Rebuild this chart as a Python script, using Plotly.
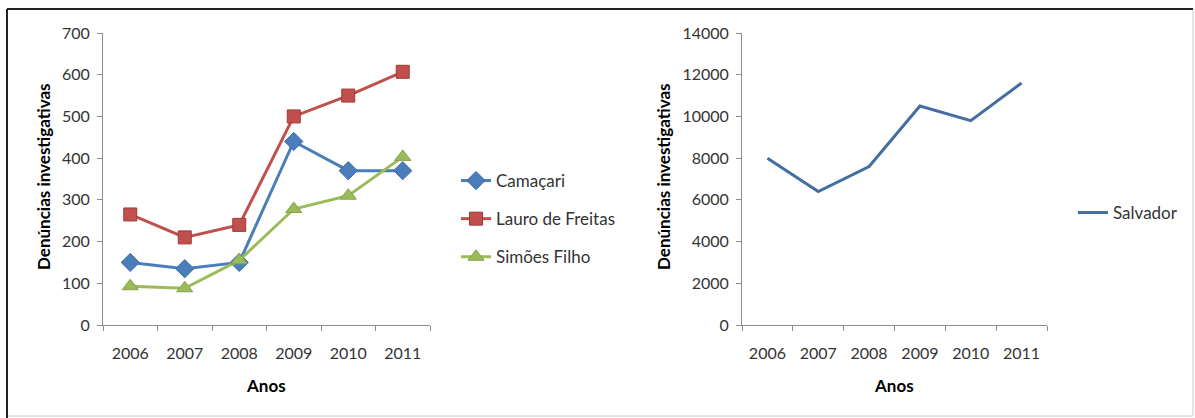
import plotly.graph_objects as go

years = ["2006", "2007", "2008", "2009", "2010", "2011"]
camacari = [150, 135, 150, 440, 370, 370]
lauro = [265, 210, 240, 500, 550, 607]
simoes = [93, 88, 155, 278, 310, 403]
salvador = [8000, 6400, 7600, 10500, 9800, 11600]

W, H = 1195, 418
FONT = "Lato"

def px(x):
    return x / W

def py(y):
    return 1 - y / H

fig = go.Figure()

fig.add_trace(go.Scatter(x=years, y=camacari, name="Camaçari", mode="lines+markers",
                         line=dict(color="#4A7EBB", width=3),
                         marker=dict(symbol="diamond", size=14, color="#4A7EBB",
                                     line=dict(color="#3C6BA5", width=1)),
                         legend="legend", legendgroup="a", xaxis="x", yaxis="y"))
fig.add_trace(go.Scatter(x=years, y=lauro, name="Lauro de Freitas", mode="lines+markers",
                         line=dict(color="#C0504D", width=3),
                         marker=dict(symbol="square", size=13, color="#C0504D",
                                     line=dict(color="#9E3A38", width=1)),
                         legend="legend", legendgroup="b", xaxis="x", yaxis="y"))
fig.add_trace(go.Scatter(x=years, y=simoes, name="Simões Filho", mode="lines+markers",
                         line=dict(color="#9BBB59", width=3),
                         marker=dict(symbol="triangle-up", size=14, color="#9BBB59",
                                     line=dict(color="#85A34A", width=1)),
                         legend="legend", legendgroup="c", xaxis="x", yaxis="y"))
fig.add_trace(go.Scatter(x=years, y=salvador, name="Salvador", mode="lines",
                         line=dict(color="#446EA2", width=3),
                         legend="legend2", xaxis="x2", yaxis="y2"))

axis_common = dict(showgrid=False, zeroline=False, showline=True, linecolor="#8C8C8C",
                   linewidth=1, ticks="outside", tickcolor="#8C8C8C", ticklen=5,
                   automargin=False,
                   tickfont=dict(family=FONT, size=16, color="#333333"))

fig.update_layout(
    template="none",
    width=W, height=H,
    margin=dict(l=0, r=0, t=0, b=0, pad=0, autoexpand=False),
    paper_bgcolor="white", plot_bgcolor="white",
    font=dict(family=FONT),
    showlegend=True,
    xaxis=dict(domain=[px(103), px(430)], anchor="y", type="category", range=[-0.5, 5.5],
               tickson="boundaries", ticklabelstandoff=14, **axis_common),
    yaxis=dict(domain=[py(325), py(33)], anchor="x", range=[0, 700], dtick=100,
               tickformat="d", ticklabelstandoff=4, **axis_common),
    xaxis2=dict(domain=[px(742), px(1047)], anchor="y2", type="category", range=[-0.5, 5.5],
                tickson="boundaries", ticklabelstandoff=14, **axis_common),
    yaxis2=dict(domain=[py(325), py(33)], anchor="x2", range=[0, 14000], dtick=2000,
                tickformat="d", ticklabelstandoff=4, **axis_common),
    legend=dict(x=px(456), y=py(163), xanchor="left", yanchor="top",
                font=dict(family=FONT, size=17, color="#333333"),
                tracegroupgap=13, bgcolor="rgba(0,0,0,0)", borderwidth=0),
    legend2=dict(x=px(1073), y=py(195), xanchor="left", yanchor="top",
                 font=dict(family=FONT, size=17, color="#333333"),
                 bgcolor="rgba(0,0,0,0)", borderwidth=0),
)

title_font = dict(family=FONT, size=17, color="black", weight="bold")
annotations = [
    dict(text="Denúncias investigativas", x=px(43), y=py(177), textangle=-90),
    dict(text="Denúncias investigativas", x=px(663), y=py(177), textangle=-90),
    dict(text="Anos", x=px(266), y=py(385)),
    dict(text="Anos", x=px(894), y=py(385)),
]
for a in annotations:
    fig.add_annotation(xref="paper", yref="paper", showarrow=False,
                       xanchor="center", yanchor="middle", font=title_font, **a)

# outer frame
fig.add_shape(type="rect", xref="paper", yref="paper", x0=px(7), x1=px(1193), y0=py(416), y1=py(9),
              line=dict(color="#C8C8C8", width=1))
fig.add_shape(type="line", xref="paper", yref="paper", x0=px(7), x1=px(1193), y0=py(9), y1=py(9),
              line=dict(color="#222222", width=2))
fig.add_shape(type="line", xref="paper", yref="paper", x0=px(7), x1=px(7), y0=py(9), y1=py(418),
              line=dict(color="#222222", width=2))

fig.write_html("out.html", config={"displayModeBar": False},
               post_script="document.body.style.margin='0';document.body.style.overflow='hidden';")
